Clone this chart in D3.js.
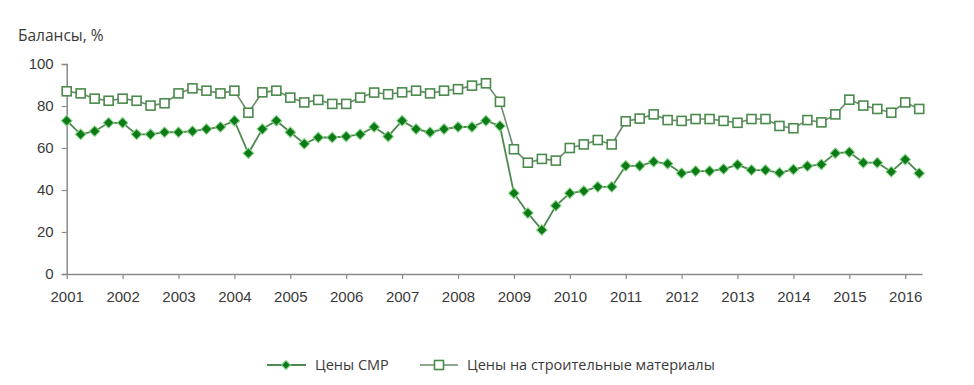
<!DOCTYPE html>
<html>
<head>
<meta charset="utf-8">
<script src="https://cdn.jsdelivr.net/npm/d3@7/dist/d3.min.js"></script>
<style>
  html, body { margin: 0; padding: 0; background: #fff; }
  svg { display: block; font-family: "Open Sans", "Liberation Sans", sans-serif; }
</style>
</head>
<body>
<svg id="chart" width="974" height="385"></svg>
<script>
// ---- data (quarterly, 2001 Q1 .. 2016 Q2) ----
const years = [2001,2002,2003,2004,2005,2006,2007,2008,2009,2010,2011,2012,2013,2014,2015,2016];
const yTicks = [0, 20, 40, 60, 80, 100];
const seriesNames = ["Цены СМР", "Цены на строительные материалы"];
const titleText = "Балансы, %";

const pricesSMR = [
  73, 66.5, 68, 72,
  72, 66.5, 66.5, 67.5,
  67.5, 68, 69, 70,
  73, 57.5, 69, 73,
  67.5, 62, 65, 65,
  65.5, 66.5, 70, 65.5,
  73, 69, 67.5, 69,
  70, 70, 73, 70.5,
  38.5, 29, 21, 32.5,
  38.5, 39.5, 41.5, 41.5,
  51.5, 51.5, 53.5, 52.5,
  48, 49, 49, 50,
  52, 49.5, 49.5, 48.2,
  49.8, 51.4, 52.2, 57.5,
  58, 53, 53, 48.7,
  54.5, 48
];
const pricesMaterials = [
  87, 86, 83.5, 82.5,
  83.5, 82.5, 80.2, 81.3,
  86, 88.4, 87.3, 86,
  87.3, 76.8, 86.5, 87.3,
  84, 81.7, 82.9, 81,
  81, 84, 86.4, 85.6,
  86.5, 87.3, 86, 87.3,
  88, 89.7, 90.8, 82,
  59.4, 53, 54.8, 54,
  60, 61.7, 63.8, 61.7,
  72.7, 74, 76, 73.3,
  72.9, 73.8, 73.8, 72.9,
  72, 73.8, 73.8, 70.5,
  69.4, 73.3, 72.2, 76,
  83, 80.2, 78.6, 76.8,
  81.7, 78.6
];

// quarter time index: 2001 + q/4
const tIndex = pricesSMR.map((d, i) => 2001 + i / 4);

// ---- layout ----
const svg = d3.select("#chart");
const x = d3.scaleLinear().domain([2001, 2016.3]).range([66.7, 922]);
const y = d3.scaleLinear().domain([0, 100]).range([274, 64]);

const axisColor = "#8a8a8a";
const textColor = "#3a3a3a";

// y axis
const yAxis = svg.append("g")
  .attr("transform", `translate(${x(2001)},0)`)
  .call(d3.axisLeft(y).tickValues(yTicks).tickSize(5).tickPadding(8));
yAxis.select(".domain").attr("stroke", axisColor).attr("stroke-width", 1.5);
yAxis.selectAll(".tick line").attr("stroke", axisColor).attr("stroke-width", 1.2);
yAxis.selectAll(".tick text").attr("fill", textColor).style("font-size", "15px");

// x axis
const xAxis = svg.append("g")
  .attr("transform", `translate(0,${y(0)})`)
  .call(d3.axisBottom(x).tickValues(years).tickFormat(d3.format("d")).tickSize(5).tickSizeOuter(0).tickPadding(12));
xAxis.select(".domain").attr("stroke", axisColor).attr("stroke-width", 1.5);
xAxis.selectAll(".tick line").attr("stroke", axisColor).attr("stroke-width", 1.2);
xAxis.selectAll(".tick text").attr("fill", textColor).style("font-size", "15px");

// title
svg.append("text")
  .attr("x", 18).attr("y", 41)
  .attr("fill", textColor)
  .style("font-size", "15.5px")
  .text(titleText);

const line = d3.line().x((d, i) => x(tIndex[i])).y(d => y(d));

// materials series (hollow squares)
const matStroke = "#4a8a4c";
svg.append("path").datum(pricesMaterials)
  .attr("d", line).attr("fill", "none")
  .attr("stroke", "#6b8a6b").attr("stroke-width", 1.6);
svg.append("g").selectAll("rect").data(pricesMaterials).join("rect")
  .attr("x", (d, i) => x(tIndex[i]) - 4.5)
  .attr("y", d => y(d) - 4.5)
  .attr("width", 9).attr("height", 9)
  .attr("fill", "#fff").attr("stroke", matStroke).attr("stroke-width", 1.6);

// SMR series (filled diamonds)
const smrFill = "#0d7a18";
svg.append("path").datum(pricesSMR)
  .attr("d", line).attr("fill", "none")
  .attr("stroke", "#4e8a50").attr("stroke-width", 1.8);
svg.append("g").selectAll("path").data(pricesSMR).join("path")
  .attr("transform", (d, i) => `translate(${x(tIndex[i])},${y(d)}) rotate(45)`)
  .attr("d", d3.symbol().type(d3.symbolSquare).size(56))
  .attr("fill", smrFill).attr("stroke", "#86d486").attr("stroke-width", 1);

// legend
const lg = svg.append("g").attr("transform", "translate(0,365)");
lg.append("line").attr("x1", 267).attr("x2", 306).attr("y1", 0).attr("y2", 0)
  .attr("stroke", "#4e8a50").attr("stroke-width", 1.8);
lg.append("path").attr("transform", "translate(286,0) rotate(45)")
  .attr("d", d3.symbol().type(d3.symbolSquare).size(40))
  .attr("fill", smrFill).attr("stroke", "#86d486").attr("stroke-width", 1);
lg.append("text").attr("x", 315).attr("y", 5).attr("fill", textColor)
  .style("font-size", "14.5px").text(seriesNames[0]);

lg.append("line").attr("x1", 420).attr("x2", 458).attr("y1", 0).attr("y2", 0)
  .attr("stroke", "#6b8a6b").attr("stroke-width", 1.6);
lg.append("rect").attr("x", 434.5).attr("y", -4.5).attr("width", 9).attr("height", 9)
  .attr("fill", "#fff").attr("stroke", matStroke).attr("stroke-width", 1.6);
lg.append("text").attr("x", 467).attr("y", 5).attr("fill", textColor)
  .style("font-size", "14.5px").text(seriesNames[1]);
</script>
</body>
</html>
